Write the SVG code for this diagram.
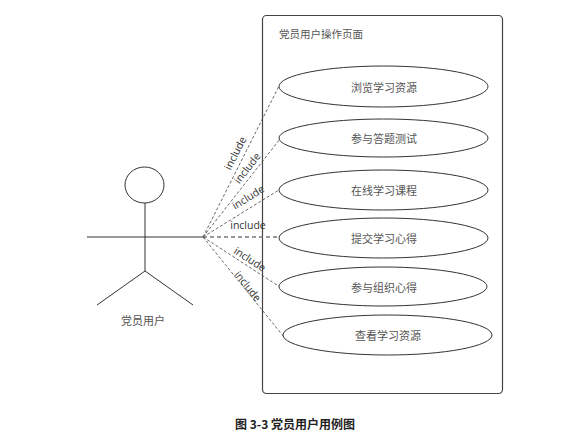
<svg xmlns="http://www.w3.org/2000/svg" width="588" height="434" viewBox="0 0 588 434">
<style>
.uc{fill:#fff;stroke:#333;stroke-width:1}
.ut{font-family:"Noto Sans CJK SC",sans-serif;font-size:11px;fill:#555;text-anchor:middle;dominant-baseline:central}
.dl{stroke:#444;stroke-width:0.8;stroke-dasharray:3,2;fill:none}
.lb{font-family:"Open Sans","DejaVu Sans",sans-serif;font-size:10.5px;fill:#333;text-anchor:middle;dominant-baseline:central}
.act{stroke:#333;stroke-width:1;fill:none}
</style>
<rect width="588" height="434" fill="#fff"/>
<g id="system">
<rect x="262.5" y="15.5" width="240" height="378" rx="4" fill="none" stroke="#444" stroke-width="1.2"/>
<text x="279" y="33" font-family="Noto Sans CJK SC,sans-serif" font-size="10.5" fill="#555" dominant-baseline="central">党员用户操作页面</text>
</g>
<g id="actor">
<ellipse class="act" cx="144.5" cy="185" rx="19.5" ry="18"/>
<line class="act" x1="145" y1="203" x2="145" y2="271"/>
<line class="act" x1="87" y1="237" x2="203" y2="237"/>
<line class="act" x1="145" y1="271" x2="97" y2="305"/>
<line class="act" x1="145" y1="271" x2="193" y2="305"/>
<text x="143" y="320" font-family="Noto Sans CJK SC,sans-serif" font-size="11" fill="#555" text-anchor="middle" dominant-baseline="central">党员用户</text>
</g>
<g id="connectors">
<line class="dl" x1="203" y1="237" x2="279" y2="86"/>
<line class="dl" x1="203" y1="237" x2="280" y2="139"/>
<line class="dl" x1="203" y1="237" x2="279" y2="190"/>
<line x1="203" y1="237" x2="279" y2="237" stroke="#777" stroke-width="1.5" stroke-dasharray="4,3"/>
<line class="dl" x1="203" y1="237" x2="280" y2="287"/>
<line class="dl" x1="203" y1="237" x2="284" y2="337"/>
<text class="lb" transform="translate(235,153) rotate(-63)">include</text>
<text class="lb" transform="translate(247,168) rotate(-52)">include</text>
<text class="lb" transform="translate(248,197) rotate(-32)">include</text>
<text class="lb" x="248" y="225">include</text>
<text class="lb" transform="translate(250,259) rotate(33)">include</text>
<text class="lb" transform="translate(248,286) rotate(51)">include</text>
</g>
<g id="uc1"><ellipse class="uc" cx="383.5" cy="86.5" rx="104.5" ry="20.5"/><text class="ut" x="384" y="86.5">浏览学习资源</text></g>
<g id="uc2"><ellipse class="uc" cx="383.5" cy="138" rx="104.5" ry="19"/><text class="ut" x="384" y="138">参与答题测试</text></g>
<g id="uc3"><ellipse class="uc" cx="383.5" cy="190" rx="104.5" ry="20"/><text class="ut" x="384" y="190">在线学习课程</text></g>
<g id="uc4"><ellipse class="uc" cx="383.5" cy="238" rx="104.5" ry="20"/><text class="ut" x="384" y="238">提交学习心得</text></g>
<g id="uc5"><ellipse class="uc" cx="383" cy="286.5" rx="104" ry="19.5"/><text class="ut" x="384" y="286.5">参与组织心得</text></g>
<g id="uc6"><ellipse class="uc" cx="387.5" cy="335" rx="104.5" ry="20"/><text class="ut" x="388" y="335">查看学习资源</text></g>
<text x="295" y="423" font-family="Noto Sans CJK SC,sans-serif" font-size="12" font-weight="bold" fill="#222" text-anchor="middle" dominant-baseline="central">图 3-3 党员用户用例图</text>
</svg>
